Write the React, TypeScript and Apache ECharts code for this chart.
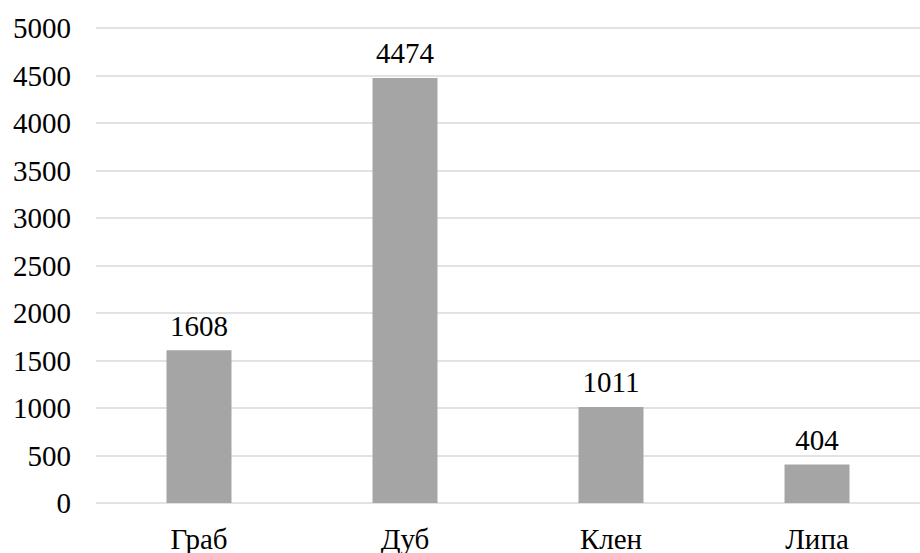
import React, { useEffect, useRef } from "react";
import * as echarts from "echarts";

const categories = ["Граб", "Дуб", "Клен", "Липа"];
const values = [1608, 4474, 1011, 404];
const yMin = 0;
const yMax = 5000;
const yInterval = 500;

export default function App() {
  const ref = useRef<HTMLDivElement>(null);
  useEffect(() => {
    if (!ref.current) return;
    const chart = echarts.init(ref.current, null, { renderer: "svg" });
    const font = "'Liberation Serif', 'Times New Roman', serif";
    chart.setOption({
      animation: false,
      backgroundColor: "#ffffff",
      grid: { left: 96, right: -10, top: 28, bottom: 50, containLabel: false },
      xAxis: {
        type: "category",
        data: categories,
        axisLine: { show: false },
        axisTick: { show: false },
        axisLabel: { color: "#000", fontFamily: font, fontSize: 29, margin: 21 },
      },
      yAxis: {
        type: "value",
        min: yMin,
        max: yMax,
        interval: yInterval,
        axisLine: { show: false },
        axisTick: { show: false },
        splitLine: { lineStyle: { color: "#d9d9d9", width: 1.5 } },
        axisLabel: {
          color: "#000",
          fontFamily: font,
          fontSize: 29,
          margin: 25,
          formatter: (v: number) => String(v),
        },
      },
      series: [
        {
          type: "bar",
          data: values,
          barWidth: 65,
          itemStyle: { color: "#a5a5a5" },
          label: {
            show: true,
            position: "top",
            distance: 10,
            color: "#000",
            fontFamily: font,
            fontSize: 29,
          },
        },
      ],
    });
    return () => chart.dispose();
  }, []);
  return <div ref={ref} style={{ width: 920, height: 553, position: "absolute", left: 0, top: 0 }} />;
}
